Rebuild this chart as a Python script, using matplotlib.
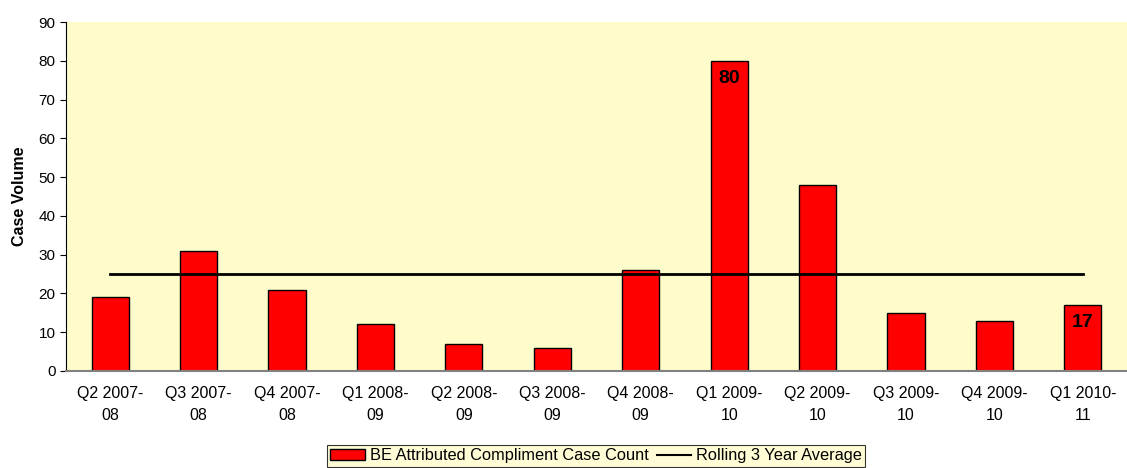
import numpy as np
import matplotlib.pyplot as plt
from matplotlib.patches import Patch
from matplotlib.lines import Line2D

plt.rcParams['font.family'] = ['Liberation Sans', 'DejaVu Sans']

# ── Data ───────────────────────────────────────────────────────
quarters = ["Q2 2007-\n08", "Q3 2007-\n08", "Q4 2007-\n08", "Q1 2008-\n09",
            "Q2 2008-\n09", "Q3 2008-\n09", "Q4 2008-\n09", "Q1 2009-\n10",
            "Q2 2009-\n10", "Q3 2009-\n10", "Q4 2009-\n10", "Q1 2010-\n11"]
case_counts = [19, 31, 21, 12, 7, 6, 26, 80, 48, 15, 13, 17]
rolling_avg = [25] * len(quarters)
labelled = {7: "80", 11: "17"}

fig = plt.figure(figsize=(11.27, 4.68), dpi=100)
ax = fig.add_axes([66 / 1127, 1 - 371 / 468, 1061 / 1127, 349 / 468])
ax.set_facecolor("#FFFCCC")

x = np.arange(len(quarters))
ax.bar(x, case_counts, width=0.42, color="#FF0000", edgecolor="black",
       linewidth=1.0, zorder=2)
ax.plot(x, rolling_avg, color="black", linewidth=2, zorder=3)

for i, txt in labelled.items():
    ax.annotate(txt, (x[i], case_counts[i]), xytext=(0, -12.5),
                textcoords="offset points", ha="center", va="center",
                fontsize=14, fontweight="bold", zorder=4)

ax.set_xlim(-0.5, len(quarters) - 0.5)
ax.set_ylim(0, 90)
ax.set_yticks(range(0, 91, 10))
ax.set_xticks(x)
ax.set_xticklabels(quarters, fontsize=11.5, linespacing=1.6)
ax.tick_params(axis="x", length=0, pad=11)
ax.tick_params(axis="y", labelsize=11, length=4, direction="out")
ax.set_ylabel("Case Volume", fontsize=11.5, fontweight="bold", labelpad=8)

for s in ["top", "right"]:
    ax.spines[s].set_visible(False)
ax.spines["bottom"].set_color("#808080")
ax.spines["bottom"].set_linewidth(1.5)
ax.spines["left"].set_color("black")

handles = [Patch(facecolor="#FF0000", edgecolor="black"),
           Line2D([0], [0], color="black", linewidth=1.5)]
leg = fig.legend(handles,
                 ["BE Attributed Compliment Case Count", "Rolling 3 Year Average"],
                 loc="upper center", bbox_to_anchor=(596 / 1127, 1 - 445 / 468),
                 ncol=2, fontsize=11.8, frameon=True, fancybox=False,
                 columnspacing=0.5, handlelength=2.1, handletextpad=0.3,
                 borderpad=0.2, borderaxespad=0)
leg.get_frame().set_edgecolor("black")
leg.get_frame().set_facecolor("#FFFCCC")
leg.get_frame().set_linewidth(0.8)

fig.savefig("out.png", dpi=100)
